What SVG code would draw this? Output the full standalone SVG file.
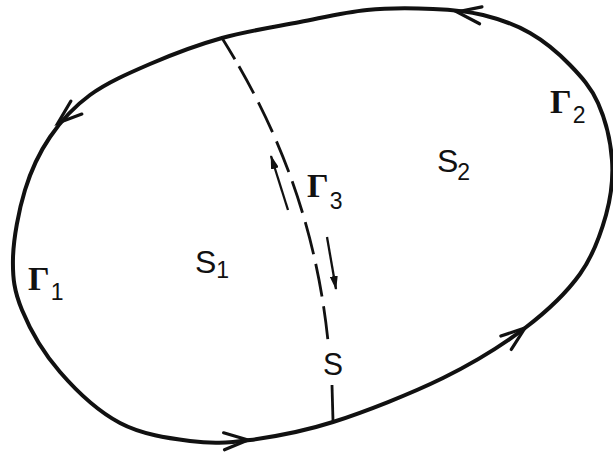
<svg xmlns="http://www.w3.org/2000/svg" width="613" height="453" viewBox="0 0 613 453">
  <style>
    .curve { fill: none; stroke: #111; stroke-width: 4; stroke-linejoin: round; stroke-linecap: round; }
    .chev { fill: none; stroke: #111; stroke-width: 3.2; stroke-linecap: round; stroke-linejoin: miter; }
    .cut { fill: none; stroke: #111; stroke-width: 2.8; }
    .flow { fill: none; stroke: #111; stroke-width: 2.3; }
    .gam { font-family: "Liberation Serif", "DejaVu Serif", serif; font-weight: bold; font-size: 34px; fill: #111; }
    .lbl { font-family: "Liberation Sans", "DejaVu Sans", sans-serif; font-size: 32px; fill: #111; }
    .sub { font-family: "Liberation Sans", "DejaVu Sans", sans-serif; font-weight: normal; font-size: 23px; fill: #111; }
  </style>
  <defs>
    <path id="chevron" d="M -24,-8.5 L 0,0 L -24,8.5"/>
    <marker id="tri" viewBox="0 0 14 8" refX="13" refY="4" markerWidth="14" markerHeight="8" markerUnits="userSpaceOnUse" orient="auto">
      <path d="M0,0 L14,4 L0,8 Z" fill="#111"/>
    </marker>
  </defs>
  <rect width="613" height="453" fill="#fff"/>

  <g id="boundary">
    <path class="curve" d="M 222,38 C 197,45 172,54.5 150,64 C 128,73.5 106.7,82.8 90,95 C 73.3,107.2 60.8,121.2 50,137 C 39.2,152.8 31.2,169.8 25,190 C 18.8,210.2 13.5,238 13,258 C 12.5,278 14.2,291 22,310 C 29.8,329 43.7,353.2 60,372 C 76.3,390.8 98.3,411.5 120,423 C 141.7,434.5 168.3,438.2 190,441 C 211.7,443.8 226.2,443.2 250,440 C 273.8,436.8 300.8,432.3 333,422 C 365.2,411.7 411,393.7 443,378 C 475,362.3 502.2,345.3 525,328 C 547.8,310.7 566.5,292.8 580,274 C 593.5,255.2 600.7,234 606,215 C 611.3,196 613.3,178.7 612,160 C 610.7,141.3 605,118.8 598,103 C 591,87.2 581.3,76.7 570,65 C 558.7,53.3 544.5,41.3 530,33 C 515.5,24.7 499.2,19 483,15 C 466.8,11 452.3,9.8 433,9 C 413.7,8.2 389.2,7.8 367,10 C 344.8,12.2 324.2,17.3 300,22 C 275.8,26.7 247,31 222,38 Z"/>
  </g>

  <g id="arrows">
    <use href="#chevron" class="chev" transform="translate(457,12) rotate(188)"/>
    <use href="#chevron" class="chev" transform="translate(58,123) rotate(140)"/>
    <use href="#chevron" class="chev" transform="translate(248,440) rotate(-3)"/>
    <use href="#chevron" class="chev" transform="translate(525,328) rotate(-38)"/>
  </g>

  <g id="cut-S">
    <path class="cut" stroke-dasharray="25 8 31 10 33 10 33 10 33 10 33 10 33 10 33 60" d="M 222,38 C 272,118 315,215 328,341"/>
    <path class="cut" d="M 332,385 L 333,421"/>
  </g>

  <g id="gamma3-flow">
    <path class="flow" d="M 288,210 L 271,156" marker-end="url(#tri)"/>
    <path class="flow" d="M 327,237 L 336,289" marker-end="url(#tri)"/>
  </g>

  <g id="labels">
    <text class="gam" x="28" y="290">Γ<tspan class="sub" dx="1" dy="10">1</tspan></text>
    <text class="gam" x="550" y="113">Γ<tspan class="sub" dx="1" dy="10">2</tspan></text>
    <text class="gam" x="307" y="197">Γ<tspan class="sub" dx="1" dy="12">3</tspan></text>
    <text class="lbl" x="195" y="273">S<tspan class="sub" dy="5">1</tspan></text>
    <text class="lbl" x="437" y="172">S<tspan class="sub" dx="-1" dy="8">2</tspan></text>
    <text class="lbl" x="323" y="375" font-size="37" textLength="20" lengthAdjust="spacingAndGlyphs">S</text>
  </g>
</svg>
